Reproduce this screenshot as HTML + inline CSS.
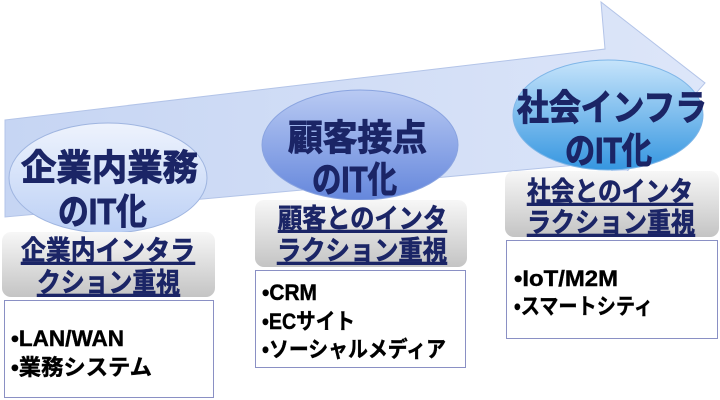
<!DOCTYPE html>
<html><head><meta charset="utf-8"><style>
html,body{margin:0;padding:0;background:#fff;width:720px;height:400px;overflow:hidden}
svg{display:block}
.c{font-family:"Liberation Sans","Noto Sans CJK JP",sans-serif;font-weight:bold;fill:#1b2566;stroke:#1b2566;stroke-width:1;font-size:36px}
.g{font-family:"Liberation Sans","Noto Sans CJK JP",sans-serif;font-weight:bold;fill:#1b2566;stroke:#1b2566;stroke-width:0.6;font-size:27px;text-decoration:underline}
.w{font-family:"Liberation Sans","Noto Sans CJK JP",sans-serif;font-weight:bold;fill:#000;stroke:#000;stroke-width:0.4;font-size:22px}
</style></head><body>
<svg width="720" height="400" viewBox="0 0 720 400" xmlns="http://www.w3.org/2000/svg">
<defs>
<linearGradient id="ar" x1="0" y1="0" x2="1" y2="0">
<stop offset="0" stop-color="#c6d5f3"/><stop offset="1" stop-color="#dde6f9"/></linearGradient>
<linearGradient id="c1" x1="0" y1="0" x2="0" y2="1">
<stop offset="0" stop-color="#eef3fd"/><stop offset="1" stop-color="#bcd0f5"/></linearGradient>
<linearGradient id="c2" x1="0" y1="0" x2="0" y2="1">
<stop offset="0" stop-color="#b9caf3"/><stop offset="1" stop-color="#6587dc"/></linearGradient>
<linearGradient id="c3" x1="0" y1="0" x2="0" y2="1">
<stop offset="0" stop-color="#c6e4fb"/><stop offset="1" stop-color="#3596e0"/></linearGradient>
<linearGradient id="gb" x1="0" y1="0" x2="0" y2="1">
<stop offset="0" stop-color="#f7f7f7"/><stop offset="1" stop-color="#c4c4c4"/></linearGradient>
</defs>
<polygon points="5,120 605,49 601,2 705,83 615,185 610,162 5,217" fill="url(#ar)" stroke="#b3c4e8" stroke-width="1"/>
<ellipse cx="108" cy="178" rx="99" ry="55" fill="url(#c1)" stroke="#9fb5e0"/>
<ellipse cx="360" cy="145" rx="98" ry="55" fill="url(#c2)" stroke="#8aa4e0"/>
<ellipse cx="608" cy="115" rx="95" ry="55" fill="url(#c3)" stroke="#7fb6e8"/>
<text class="c" x="21" y="180" textLength="177" lengthAdjust="spacingAndGlyphs">企業内業務</text>
<text class="c" x="58" y="224" textLength="89" lengthAdjust="spacingAndGlyphs">のIT化</text>
<text class="c" x="288" y="150" textLength="139" lengthAdjust="spacingAndGlyphs">顧客接点</text>
<text class="c" x="312" y="192" textLength="85" lengthAdjust="spacingAndGlyphs">のIT化</text>
<text class="c" x="517" y="120" textLength="190" lengthAdjust="spacingAndGlyphs">社会インフラ</text>
<text class="c" x="565" y="163" textLength="87" lengthAdjust="spacingAndGlyphs">のIT化</text>
<rect x="2" y="232" width="213" height="65" rx="9" fill="url(#gb)"/>
<rect x="255" y="200" width="212" height="67" rx="9" fill="url(#gb)"/>
<rect x="505" y="171" width="214" height="66" rx="9" fill="url(#gb)"/>
<text class="g" x="21" y="260" textLength="174" lengthAdjust="spacingAndGlyphs">企業内インタラ</text>
<text class="g" x="37" y="292" textLength="143" lengthAdjust="spacingAndGlyphs">クション重視</text>
<text class="g" x="278" y="228" textLength="169" lengthAdjust="spacingAndGlyphs">顧客とのインタ</text>
<text class="g" x="277" y="260" textLength="170" lengthAdjust="spacingAndGlyphs">ラクション重視</text>
<text class="g" x="527" y="201" textLength="166" lengthAdjust="spacingAndGlyphs">社会とのインタ</text>
<text class="g" x="527" y="232" textLength="168" lengthAdjust="spacingAndGlyphs">ラクション重視</text>
<rect x="4.5" y="300.5" width="209" height="97" fill="#fff" stroke="#8a90c4"/>
<rect x="255.5" y="270.5" width="210" height="97" fill="#fff" stroke="#8a90c4"/>
<rect x="506.5" y="240.5" width="211" height="98" fill="#fff" stroke="#8a90c4"/>
<text class="w" x="11" y="346" textLength="113" lengthAdjust="spacingAndGlyphs">•LAN/WAN</text>
<text class="w" x="11" y="375" textLength="141" lengthAdjust="spacingAndGlyphs">•業務システム</text>
<text class="w" x="262" y="300" textLength="55" lengthAdjust="spacingAndGlyphs">•CRM</text>
<text class="w" x="262" y="329" textLength="93" lengthAdjust="spacingAndGlyphs">•ECサイト</text>
<text class="w" x="262" y="357" textLength="184" lengthAdjust="spacingAndGlyphs">•ソーシャルメディア</text>
<text class="w" x="514" y="286" textLength="104" lengthAdjust="spacingAndGlyphs">•IoT/M2M</text>
<text class="w" x="514" y="314" textLength="139" lengthAdjust="spacingAndGlyphs">•スマートシティ</text>
</svg>
</body></html>
